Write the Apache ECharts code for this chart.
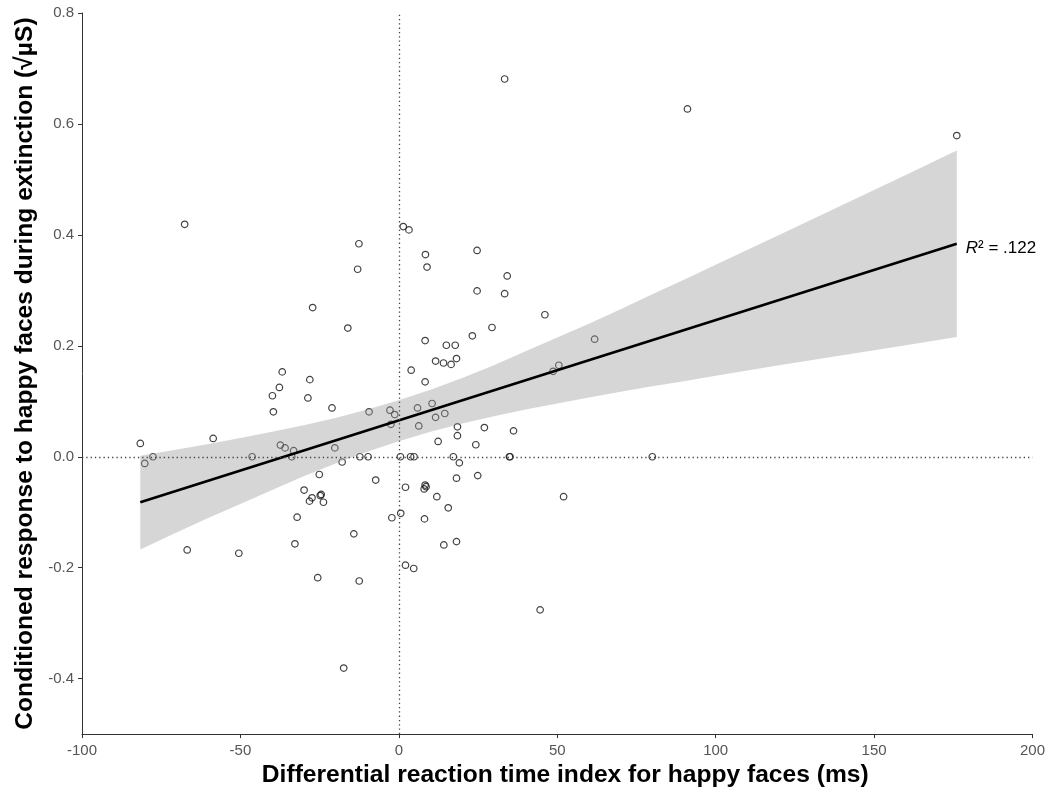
<!DOCTYPE html>
<html><head><meta charset="utf-8">
<script src="https://cdn.jsdelivr.net/npm/echarts@6/dist/echarts.min.js"></script>
<style>html,body{margin:0;padding:0;background:#fff}#c{width:1048px;height:793px}</style>
</head><body><div id="c"></div>
<script>
const pointX = [-81.6,-80.2,-77.6,-67.6,-66.8,-58.6,-50.5,-46.3,-39.9,-39.6,-37.7,-37.4,-36.8,-35.9,-33.8,-33.2,-32.8,-32.1,-29.9,-28.7,
  -28.2,-28.1,-27.4,-27.2,-25.6,-25.1,-24.8,-24.5,-23.8,-21.1,-20.2,-17.9,-17.4,-16.1,-14.2,-13.0,-12.6,-12.3,-12.5,-9.7,
  -9.4,-7.3,-2.8,-2.5,-2.2,-1.3,0.5,0.6,1.4,2.1,2.1,3.2,3.7,3.9,4.7,4.8,5.9,6.3,8.0,8.3,
  8.6,8.1,8.3,8.3,8.4,8.9,10.5,11.6,11.6,12.0,12.4,14.1,14.2,14.5,15.0,15.6,16.5,17.2,17.8,18.2,
  18.2,18.2,18.5,18.5,19.1,23.2,24.3,24.7,24.7,24.9,27.0,29.4,33.4,33.4,34.2,34.9,35.1,36.2,44.6,46.1,
  48.7,50.5,52.0,61.8,80.0,91.1,176.1];
const pointY = [0.024,-0.012,0.0,0.419,-0.168,0.033,-0.174,0.0,0.110,0.081,0.125,0.021,0.153,0.016,0.0,0.011,-0.157,-0.109,-0.060,0.106,
  -0.080,0.139,-0.074,0.269,-0.218,-0.032,-0.070,-0.068,-0.082,0.088,0.016,-0.0095,-0.381,0.232,-0.139,0.338,0.384,0.0,-0.224,0.0,
  0.081,-0.042,0.084,0.0585,-0.110,0.076,0.0,-0.102,0.415,-0.055,-0.1955,0.409,0.0,0.156,-0.2015,0.0,0.088,0.0556,-0.058,-0.051,
  -0.054,-0.112,0.135,0.2095,0.3645,0.342,0.096,0.071,0.1725,-0.072,0.0276,0.169,-0.159,0.078,0.201,-0.092,0.1665,0.0,0.201,0.177,
  -0.0387,-0.153,0.054,0.038,-0.011,0.218,0.0216,0.372,0.299,-0.034,0.0526,0.233,0.294,0.681,0.326,0.0,0.0,0.0467,-0.276,0.256,
  0.154,0.165,-0.072,0.212,0.0,0.627,0.579];
const fitX = [-81.6, 176.1];
const fitY = [-0.082, 0.384];
const bandX     = [-81.6, -70, -60, -50, -40, -30, -20, -10, 0, 10, 20, 30, 40, 50, 60, 70, 80, 90, 100, 120, 140, 160, 176.1];
const bandUpper = [0.002, 0.013, 0.023, 0.034, 0.045, 0.057, 0.070, 0.085, 0.102, 0.121, 0.142, 0.165, 0.190, 0.215, 0.240, 0.266, 0.293, 0.319, 0.346, 0.400, 0.454, 0.508, 0.552];
const bandLower = [-0.167, -0.136, -0.110, -0.085, -0.060, -0.035, -0.012, 0.009, 0.028, 0.045, 0.060, 0.073, 0.085, 0.096, 0.107, 0.117, 0.127, 0.136, 0.146, 0.165, 0.183, 0.201, 0.216];
const xTickValues = [-100,-50,0,50,100,150,200];
const yTickValues = [-0.4,-0.2,0,0.2,0.4,0.6,0.8];
const xTitle = 'Differential reaction time index for happy faces (ms)';
const yTitle = 'Conditioned response to happy faces during extinction (√µS)';
const r2Text = '.122';

const FONT = 'Liberation Sans, Arial, Helvetica, sans-serif';
const chart = echarts.init(document.getElementById('c'), null, {renderer: 'canvas'});
const bandRows = bandX.map((x, i) => [x, bandLower[i], bandUpper[i]]);

chart.setOption({
  animation: false,
  backgroundColor: '#fff',
  grid: {left: 82, right: 15, top: 13, bottom: 53, containLabel: false},
  xAxis: {
    type: 'value', min: -100, max: 200, interval: 50,
    axisLine: {onZero: false, lineStyle: {color: '#333', width: 1}},
    axisTick: {length: 4, lineStyle: {color: '#333'}},
    axisLabel: {color: '#555', fontSize: 15, margin: 9, fontFamily: FONT,
      customValues: xTickValues},
    splitLine: {show: false},
    name: xTitle, nameLocation: 'middle', nameGap: 21,
    nameTextStyle: {fontSize: 24.6, fontWeight: 'bold', color: '#000', fontFamily: FONT,
      padding: [0, 0, 0, 16]}
  },
  yAxis: {
    type: 'value', min: -0.5, max: 0.8,
    axisLine: {onZero: false, lineStyle: {color: '#333', width: 1}},
    axisTick: {length: 4, lineStyle: {color: '#333'}, customValues: yTickValues},
    axisLabel: {color: '#555', fontSize: 15, margin: 8, fontFamily: FONT,
      customValues: yTickValues, formatter: v => Number(v).toFixed(1)},
    splitLine: {show: false},
    name: yTitle, nameLocation: 'middle', nameGap: 44,
    nameTextStyle: {fontSize: 24.6, fontWeight: 'bold', color: '#000', fontFamily: FONT}
  },
  series: [
    {
      type: 'scatter', z: 2,
      data: pointX.map((x, i) => [x, pointY[i]]),
      symbol: 'circle', symbolSize: 6.5,
      itemStyle: {color: 'rgba(0,0,0,0)', borderColor: '#111', borderWidth: 1.2},
      markLine: {
        silent: true, symbol: ['none', 'none'], label: {show: false},
        lineStyle: {type: [1.3, 3.0], color: '#444', width: 1.3},
        data: [{xAxis: 0}, {yAxis: 0}]
      }
    },
    {
      type: 'custom', z: 3, silent: true,
      data: bandRows,
      renderItem: function (params, api) {
        if (params.dataIndex !== 0) return null;
        const pts = [];
        for (let i = 0; i < bandRows.length; i++) pts.push(api.coord([bandRows[i][0], bandRows[i][2]]));
        for (let i = bandRows.length - 1; i >= 0; i--) pts.push(api.coord([bandRows[i][0], bandRows[i][1]]));
        return {type: 'polygon', shape: {points: pts},
          style: {fill: 'rgba(153,153,153,0.4)', stroke: null}};
      }
    },
    {
      type: 'line', z: 4,
      data: fitX.map((x, i) => [x, fitY[i]]),
      showSymbol: false, symbol: 'none',
      lineStyle: {color: '#000', width: 2.7},
      endLabel: {
        show: true, distance: 9, offset: [0, 5],
        formatter: () => '{r|R}{n|² = ' + r2Text + '}',
        rich: {
          r: {fontStyle: 'italic', fontSize: 17, color: '#000', fontFamily: FONT},
          n: {fontSize: 17, color: '#000', fontFamily: FONT}
        }
      }
    }
  ]
});
</script></body></html>
